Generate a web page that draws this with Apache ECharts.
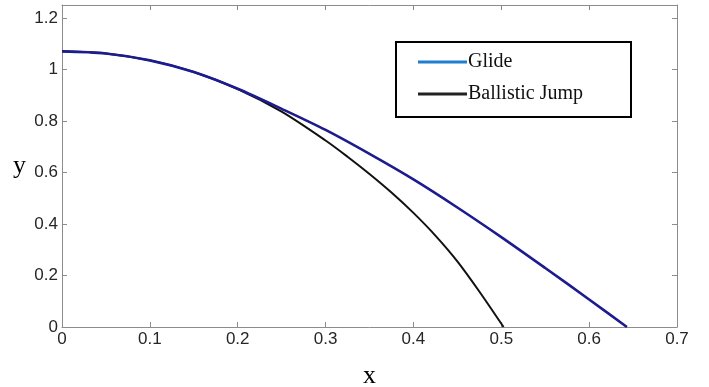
<!DOCTYPE html>
<html>
<head>
<meta charset="utf-8">
<script src="https://cdn.jsdelivr.net/npm/echarts@6/dist/echarts.min.js"></script>
<style>
  html, body { margin: 0; padding: 0; background: #fff; }
  #chart { width: 709px; height: 387px; }
</style>
</head>
<body>
<div id="chart"></div>
<script>
// values
const glideX = [0, 0.05, 0.1, 0.15, 0.2, 0.25, 0.3, 0.35, 0.4, 0.45, 0.5, 0.55, 0.6, 0.643];
const glideY = [1.07, 1.062, 1.035, 0.99, 0.925, 0.847, 0.765, 0.672, 0.573, 0.464, 0.349, 0.229, 0.107, 0];

const jumpX = [0, 0.05, 0.1, 0.15, 0.2, 0.25, 0.3, 0.325, 0.35, 0.375, 0.4, 0.425, 0.45, 0.475, 0.5026];
const jumpY = [1.07, 1.062, 1.035, 0.99, 0.924, 0.836, 0.724, 0.661, 0.594, 0.522, 0.443, 0.355, 0.255, 0.138, 0];

const xTicks = [0, 0.1, 0.2, 0.3, 0.4, 0.5, 0.6, 0.7];
const yTicks = [0, 0.2, 0.4, 0.6, 0.8, 1, 1.2];

const zip = (xs, ys) => xs.map((x, i) => [x, ys[i]]);

const frameColor = "#8c8c8c";
const labelStyle = { color: "#262626", fontSize: 17, fontFamily: "Liberation Sans, Arial, sans-serif" };

const chart = echarts.init(document.getElementById("chart"));

const baseX = {
  type: "value",
  min: 0,
  max: 0.7,
  interval: 0.1,
  axisLine: { show: true, onZero: false, lineStyle: { color: frameColor, width: 1 } },
  axisTick: { show: true, inside: true, length: 5, lineStyle: { color: frameColor } },
  splitLine: { show: false },
};
const baseY = {
  type: "value",
  min: 0,
  max: 1.25,
  interval: 0.2,
  axisLine: { show: true, onZero: false, lineStyle: { color: frameColor, width: 1 } },
  axisTick: { show: true, inside: true, length: 5, lineStyle: { color: frameColor } },
  splitLine: { show: false },
};

chart.setOption({
  backgroundColor: "#fff",
  animation: false,
  grid: { left: 62, right: 32, top: 5, bottom: 60, outerBoundsMode: "none" },
  legend: {
    orient: "vertical",
    left: 396,
    top: 42,
    padding: [10, 48, 13, 22],
    itemGap: 12,
    itemWidth: 49,
    itemHeight: 3,
    borderColor: "#000",
    borderWidth: 2,
    backgroundColor: "#fff",
    textStyle: { color: "#111", fontSize: 20, fontFamily: "Liberation Serif, Times New Roman, serif", padding: [0, 0, 0, -4] },
    data: [
      { name: "Glide", icon: "rect", itemStyle: { color: "#1e7fd0" } },
      { name: "Ballistic Jump", icon: "rect", itemStyle: { color: "#222" } },
    ],
  },
  xAxis: [
    {
      ...baseX,
      position: "bottom",
      name: "x",
      nameLocation: "middle",
      nameGap: 36,
      nameTextStyle: { color: "#000", fontSize: 26, fontFamily: "Liberation Serif, Times New Roman, serif" },
      axisLabel: {
        ...labelStyle,
        margin: 4,
        formatter: (v) => (xTicks.includes(Math.round(v * 10) / 10) ? String(Math.round(v * 10) / 10) : ""),
      },
    },
    { ...baseX, position: "top", axisLabel: { show: false } },
  ],
  yAxis: [
    {
      ...baseY,
      position: "left",
      name: "y",
      nameLocation: "middle",
      nameRotate: 0,
      nameGap: 36,
      nameTextStyle: { color: "#000", fontSize: 26, fontFamily: "Liberation Serif, Times New Roman, serif" },
      axisLabel: {
        ...labelStyle,
        margin: 4,
        showMaxLabel: false,
        formatter: (v) => {
          const r = Math.round(v * 10) / 10;
          return yTicks.includes(r) && Math.abs(v - r) < 1e-6 ? String(r) : "";
        },
      },
    },
    { ...baseY, position: "right", axisLabel: { show: false } },
  ],
  series: [
    {
      name: "Glide",
      type: "line",
      data: zip(glideX, glideY),
      smooth: 0.3,
      showSymbol: false,
      lineStyle: { color: "#1c1c8e", width: 2.6 },
      itemStyle: { color: "#1e7fd0" },
      z: 3,
    },
    {
      name: "Ballistic Jump",
      type: "line",
      data: zip(jumpX, jumpY),
      smooth: 0.3,
      showSymbol: false,
      lineStyle: { color: "#111", width: 2 },
      itemStyle: { color: "#222" },
      z: 2,
    },
  ],
});
</script>
</body>
</html>
